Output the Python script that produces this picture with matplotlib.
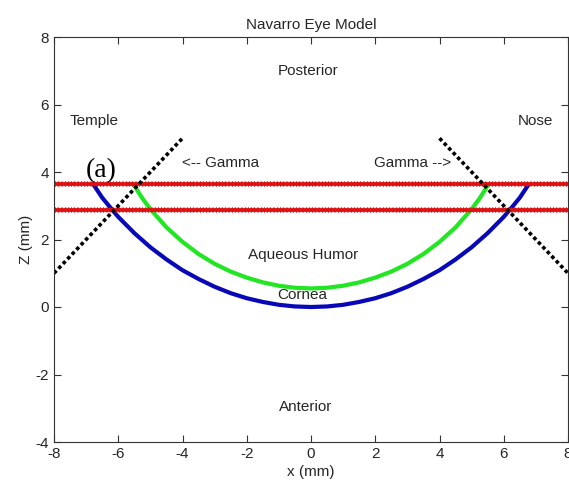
import numpy as np
import matplotlib.pyplot as plt

plt.rcParams['font.family'] = ['Liberation Sans', 'DejaVu Sans']
plt.rcParams['axes.unicode_minus'] = False

# cornea (anterior surface), symmetric about x = 0
cornea_x = [-6.78, -6.5, -6.25, -6.0, -5.5, -5.0, -4.5, -4.0, -3.5, -3.0, -2.5, -2.0, -1.5, -1.0, -0.5,
            0.0, 0.5, 1.0, 1.5, 2.0, 2.5, 3.0, 3.5, 4.0, 4.5, 5.0, 5.5, 6.0, 6.25, 6.5, 6.78]
cornea_z = [3.64, 3.24, 2.95, 2.67, 2.19, 1.77, 1.41, 1.09, 0.83, 0.60, 0.41, 0.26, 0.15, 0.065, 0.016,
            0.0, 0.016, 0.065, 0.15, 0.26, 0.41, 0.60, 0.83, 1.09, 1.41, 1.77, 2.19, 2.67, 2.95, 3.24, 3.64]

# aqueous humor boundary (posterior cornea)
aqueous_x = [-5.53, -5.25, -5.0, -4.5, -4.0, -3.5, -3.0, -2.5, -2.0, -1.5, -1.0, -0.5,
             0.0, 0.5, 1.0, 1.5, 2.0, 2.5, 3.0, 3.5, 4.0, 4.5, 5.0, 5.25, 5.53]
aqueous_z = [3.64, 3.22, 2.90, 2.36, 1.93, 1.57, 1.28, 1.05, 0.87, 0.73, 0.63, 0.57,
             0.55, 0.57, 0.63, 0.73, 0.87, 1.05, 1.28, 1.57, 1.93, 2.36, 2.90, 3.22, 3.64]

# horizontal reference levels (red)
level_z = [3.64, 2.87]
level_x = np.arange(-8, 8.01, 0.1)

# gamma lines
gamma_left_x = [-8, -4]
gamma_left_z = [1, 5]
gamma_right_x = [4, 8]
gamma_right_z = [5, 1]

fig = plt.figure(figsize=(5.69, 4.87), dpi=100)
ax = fig.add_axes([54/569, 45/487, 514/569, 405/487])

txt = '#262626'
fs = 11

ax.plot(cornea_x, cornea_z, color='#0808b8', lw=3, solid_capstyle='butt')
ax.plot(aqueous_x, aqueous_z, color='#22e622', lw=3, solid_capstyle='butt')
for z in level_z:
    ax.plot(level_x, [z]*len(level_x), color='#dd1111', lw=1.2, marker='x',
            markersize=3.5, markeredgewidth=1.4)
ax.plot(gamma_left_x, gamma_left_z, color='k', lw=2.6, ls=(0, (1, 0.8)))
ax.plot(gamma_right_x, gamma_right_z, color='k', lw=2.6, ls=(0, (1, 0.8)))

ax.text(-1.05, 7.0, 'Posterior', fontsize=fs, color=txt, va='center')
ax.text(-7.5, 5.5, 'Temple', fontsize=fs, color=txt, va='center')
ax.text(6.45, 5.5, 'Nose', fontsize=fs, color=txt, va='center')
ax.text(-4.0, 4.27, '<-- Gamma', fontsize=fs, color=txt, va='center')
ax.text(1.97, 4.27, 'Gamma -->', fontsize=fs, color=txt, va='center')
ax.text(-7.0, 4.05, '(a)', fontsize=20, family='Liberation Serif', color='k', va='center')
ax.text(-1.95, 1.54, 'Aqueous Humor', fontsize=fs, color=txt, va='center')
ax.text(-1.05, 0.36, 'Cornea', fontsize=fs, color=txt, va='center')
ax.text(-1.0, -2.96, 'Anterior', fontsize=fs, color=txt, va='center')

ax.set_xlim(-8, 8)
ax.set_ylim(-4, 8)
ax.set_xticks(np.arange(-8, 9, 2))
ax.set_yticks(np.arange(-4, 9, 2))
ax.tick_params(direction='in', top=True, right=True, length=5, labelsize=fs,
               labelcolor=txt, color='#333333')
for s in ax.spines.values():
    s.set_color('#333333')
ax.set_title('Navarro Eye Model', fontsize=fs, color=txt, pad=6)
ax.set_xlabel('x (mm)', fontsize=fs, color=txt, labelpad=3)
ax.set_ylabel('Z (mm)', fontsize=fs, color=txt, labelpad=2)

fig.savefig('out.png', dpi=100)
